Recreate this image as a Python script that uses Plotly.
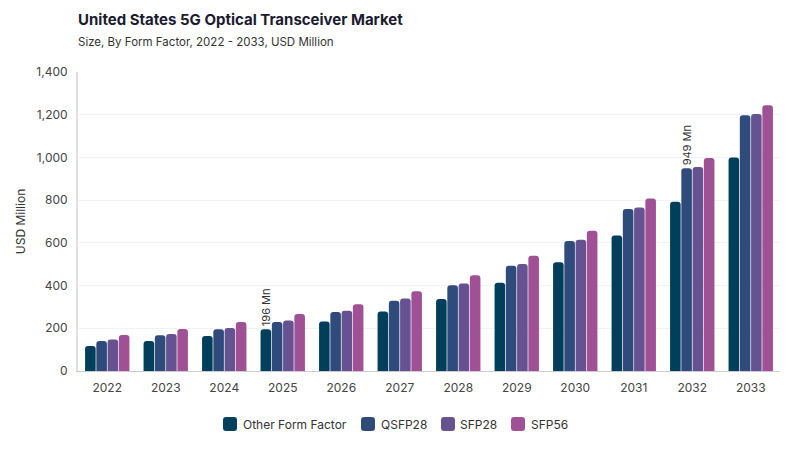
import plotly.graph_objects as go

years = ["2022", "2023", "2024", "2025", "2026", "2027", "2028", "2029", "2030", "2031", "2032", "2033"]
other = [117, 140, 164, 196, 232, 279, 337, 413, 509, 634, 793, 1000]
qsfp28 = [140, 167, 195, 229, 276, 329, 401, 493, 609, 758, 949, 1198]
sfp28 = [147, 173, 201, 237, 282, 340, 410, 501, 615, 765, 955, 1203]
sfp56 = [168, 197, 229, 267, 313, 373, 448, 540, 657, 808, 997, 1244]

series_names = ["Other Form Factor", "QSFP28", "SFP28", "SFP56"]
series_values = [other, qsfp28, sfp28, sfp56]
series_colors = ["#003f5c", "#2f4b7c", "#665191", "#a05195"]
series_labels = [{"2025": "196 Mn"}, {"2032": "949 Mn"}, {}, {}]

fig = go.Figure()
for name, vals, color, labels in zip(series_names, series_values, series_colors, series_labels):
    fig.add_trace(go.Bar(
        name=name, x=years, y=vals,
        marker=dict(color=color, line=dict(width=0)),
        text=[labels.get(y, "") for y in years],
        textposition="outside", textangle=-90, constraintext="none",
        textfont=dict(size=11, color="#333333"),
        cliponaxis=False, showlegend=False,
    ))

# page body adds an 8px offset; margins compensate
W, H = 800, 450
L, R, T, B = 70, 28, 64, 87
PW, PH = W - L - R, H - T - B
OFF = 8


def px_x(px):
    return (px - OFF - L) / PW


def px_y(py):
    return 1 - (py - OFF - T) / PH


# custom legend (rounded swatches + labels)
legend_swatch_left = [223, 361, 441, 511]
legend_text_left = [243, 381, 460, 531]
legend_y = 424
sw = 14
rr = 3
shapes = []
annotations = []
for name, color, sx, tx in zip(series_names, series_colors, legend_swatch_left, legend_text_left):
    x0, x1 = px_x(sx), px_x(sx + sw)
    y0, y1 = px_y(legend_y + sw / 2), px_y(legend_y - sw / 2)
    rx, ry = rr / PW, rr / PH
    path = (f"M {x0+rx} {y0} L {x1-rx} {y0} Q {x1} {y0} {x1} {y0+ry} "
            f"L {x1} {y1-ry} Q {x1} {y1} {x1-rx} {y1} L {x0+rx} {y1} "
            f"Q {x0} {y1} {x0} {y1-ry} L {x0} {y0+ry} Q {x0} {y0} {x0+rx} {y0} Z")
    shapes.append(dict(type="path", xref="paper", yref="paper", path=path,
                       fillcolor=color, line=dict(width=0)))
    annotations.append(dict(text=name, xref="paper", yref="paper", x=px_x(tx), xanchor="left",
                            xshift=-2, y=px_y(legend_y), yanchor="middle", showarrow=False,
                            font=dict(size=12, color="#333333")))

annotations.append(dict(
    text="Size, By Form Factor, 2022 - 2033, USD Million",
    xref="paper", yref="paper", x=0, xanchor="left", xshift=-2,
    y=px_y(42), yanchor="middle",
    showarrow=False, font=dict(size=11.5, color="#333333"),
))

fig.update_layout(
    width=W, height=H,
    barmode="group", bargap=0.23, bargroupgap=0.06,
    barcornerradius=3,
    plot_bgcolor="white", paper_bgcolor="white",
    font=dict(family="Inter, Lato, sans-serif", color="#333333", size=12),
    margin=dict(l=L, r=R, t=T, b=B, autoexpand=False),
    title=dict(
        text="<b>United States 5G Optical Transceiver Market</b>",
        x=L / W, xanchor="left", y=1 - 6 / H, yanchor="top",
        font=dict(size=15, color="#1b1b2f"),
    ),
    annotations=annotations,
    shapes=shapes,
    showlegend=False,
    xaxis=dict(showline=True, linecolor="#cccccc", linewidth=1, ticks="",
               ticklabelstandoff=6,
               tickfont=dict(size=12, color="#444444"), automargin=False),
    yaxis=dict(range=[0, 1400], dtick=200, tickformat=",", showgrid=True,
               gridcolor="#f2f2f2", showline=True, linecolor="#e0e0e0", linewidth=2,
               ticklabelstandoff=6,
               zeroline=False, tickfont=dict(size=12, color="#444444"), automargin=False,
               title=dict(text="USD Million", font=dict(size=12, color="#333333"), standoff=8)),
)

fig.write_html("out.html")
